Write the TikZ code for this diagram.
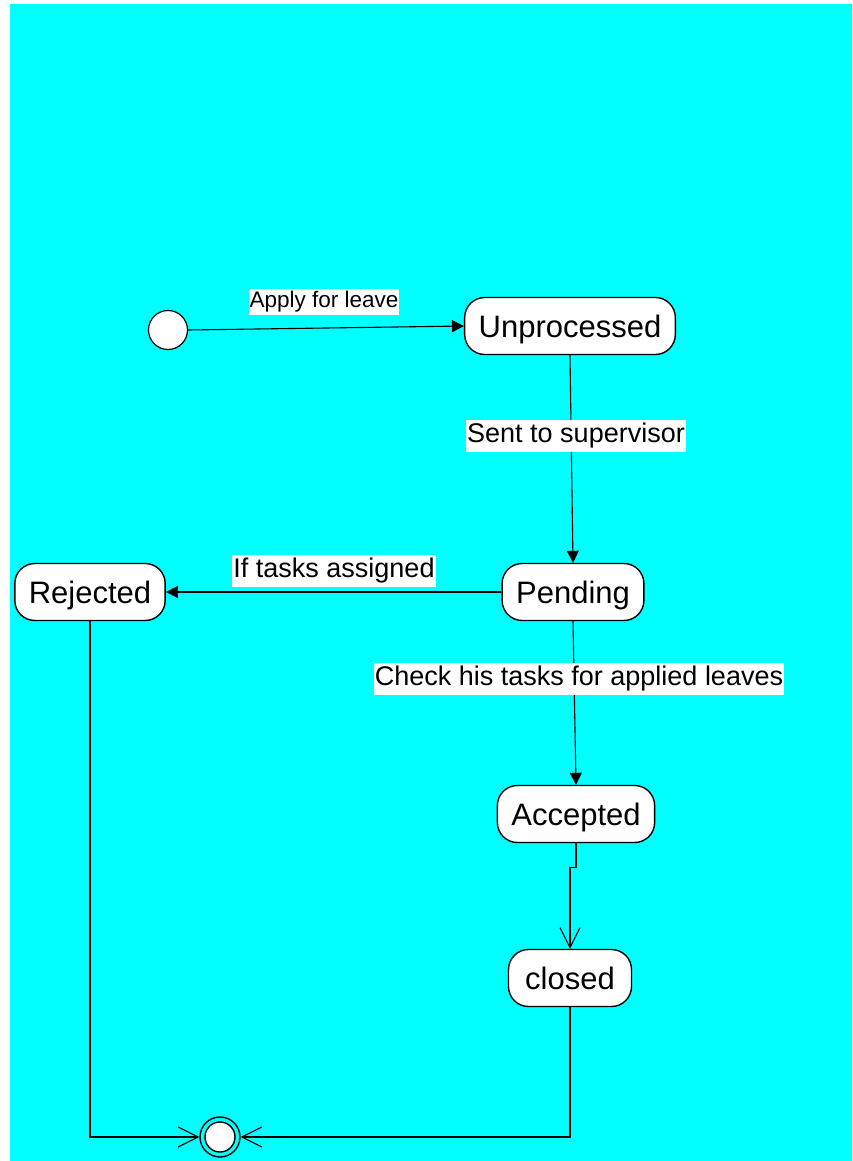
\documentclass[tikz,border=0pt]{standalone}
\usepackage{fontspec}
\setmainfont{Liberation Sans}
\usetikzlibrary{arrows.meta}
\definecolor{bgcyan}{RGB}{0,255,255}

\begin{document}
\begin{tikzpicture}[
    x=1pt, y=-1pt,
    state/.style={draw, fill=white, rounded corners=20pt, line width=1.4pt, minimum height=57pt, inner xsep=14pt, text height=24pt, text depth=2pt, font=\fontsize{31}{36}\selectfont},
    trans/.style={line width=1.1pt, -{Triangle[length=12pt,width=12pt]}},
    opentrans/.style={line width=1.1pt, -{Straight Barb[length=20pt,width=20pt]}},
    lbl/.style={fill=white, inner xsep=1pt, inner ysep=3pt, font=\fontsize{27}{32}\selectfont}
]
    \useasboundingbox (0,0) rectangle (852,1161);
    \fill[bgcyan] (10,4) rectangle (852,1161);

    % States
    \node[circle, draw, fill=white, line width=1.2pt, minimum size=39pt, inner sep=0pt] (init) at (168,330) {};
    \node[state] (unproc) at (570,326) {Unprocessed};
    \node[state] (pending) at (573,592) {Pending};
    \node[state] (rejected) at (90,592) {Rejected};
    \node[state] (accepted) at (576,814) {Accepted};
    \node[state, minimum width=123pt] (closed) at (570,978) {closed};
    \node[circle, draw, line width=1.4pt, minimum size=40pt, inner sep=0pt] (final) at (220,1137) {};
    \draw[fill=white, line width=1.4pt] (final.center) circle (15pt);

    % Transitions
    \draw[trans] (init.east) -- (unproc.west);
    \draw[trans] (unproc.south) -- (pending.north);
    \draw[trans] (pending.west) -- (rejected.east);
    \draw[trans] (pending.south) -- (accepted.north);
    \draw[opentrans] (accepted.south) -- ++(0,24) -| (closed.north);
    \draw[opentrans] (closed.south) |- (final.east);
    \draw[opentrans] (rejected.south) |- (final.west);

    % Labels
    \node[lbl, font=\fontsize{22.5}{27}\selectfont] (applylbl) at (324,302) {Apply for leave};
    \node[lbl] (sentlbl) at (576,436) {Sent to supervisor};
    \node[lbl] (iflbl) at (334,571) {If tasks assigned};
    \node[lbl] (checklbl) at (579,679) {Check his tasks for applied leaves};
\end{tikzpicture}
\end{document}
